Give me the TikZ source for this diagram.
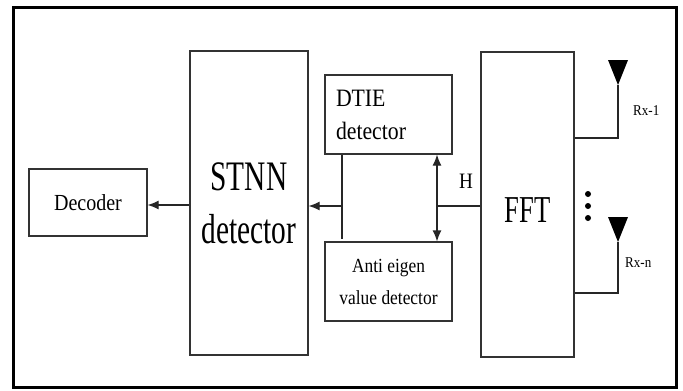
\documentclass[tikz,border=0pt]{standalone}
\usepackage{fontspec}
\setmainfont{Liberation Serif}
\newfontfamily\fA[FakeStretch=0.7]{Liberation Serif}
\newfontfamily\fB[FakeStretch=0.87]{Liberation Serif}
\usetikzlibrary{arrows.meta}
\begin{document}
\begin{tikzpicture}[x=1pt,y=-1pt,
  box/.style={draw=black!80, line width=1.2pt, inner sep=0pt, fill=white},
  conn/.style={draw=black!85, line width=1.2pt},
  tipa/.tip={Latex[length=11pt,width=9pt]},
  arr/.style={conn, -tipa},
  darr/.style={conn, tipa-tipa}]
\useasboundingbox (0,0) rectangle (683,391);
\draw[line width=3pt] (13,7) rectangle (676,387);

\node[box, minimum width=118pt, minimum height=67pt,
      font={\fB\fontsize{23}{28}\selectfont}] (dec) at (88,202.5) {Decoder};
\node[box, minimum width=118pt, minimum height=304pt, align=center,
      font={\fA\fontsize{42}{53}\selectfont}] (stnn) at (249,203) {STNN\\detector};
\node[box, minimum width=127pt, minimum height=79pt, text width=105pt, align=left,
      font={\fB\fontsize{25}{33}\selectfont}] (dtie) at (388.5,114.5) {DTIE\\detector};
\node[box, minimum width=127pt, minimum height=79pt, align=center,
      font={\fB\fontsize{20}{32}\selectfont}] (anti) at (388.5,281.5) {Anti eigen\\value detector};
\node[box, minimum width=93pt, minimum height=305pt, text height=35pt, text depth=0pt,
      font={\fA\fontsize{38}{46}\selectfont}] (fft) at (527.5,204.5) {FFT};

% STNN -> Decoder
\coordinate (j0) at (190,205);
\draw[arr] (stnn.west |- j0) -- (dec.east |- j0);

% combiner line and arrow to STNN
\coordinate (j1) at (342,206);
\coordinate (j1b) at (342,239);
\draw[conn] (j1 |- dtie.south) -- (j1b);
\draw[arr] (j1) -- (stnn.east |- j1);

% H double arrow and line from FFT
\coordinate (j3) at (437,206);
\draw[darr] (j3 |- dtie.south) -- (j3 |- anti.north);
\draw[conn] (j3) -- (fft.west |- j3);
\node[font={\fB\fontsize{22}{26}\selectfont}, anchor=base, inner sep=0pt] (h) at (466,188) {H};

% antennas
\coordinate (t1) at (618,85);
\fill (608,60) -- (628,60) -- (t1) -- cycle;
\coordinate (c1) at (618,138);
\draw[conn] (t1) -- (c1) -- (fft.east |- c1);
\node[font={\fB\fontsize{15}{18}\selectfont}, anchor=base west, inner sep=0pt] (rx1) at (633,115) {Rx-1};

\coordinate (t2) at (618,242);
\fill (608,217) -- (628,217) -- (t2) -- cycle;
\coordinate (c2) at (618,293);
\draw[conn] (t2) -- (c2) -- (fft.east |- c2);
\node[font={\fB\fontsize{15}{18}\selectfont}, anchor=base west, inner sep=0pt] (rxn) at (625,267) {Rx-n};

% dots
\fill (588,194) circle[radius=3pt];
\fill (588,206) circle[radius=3pt];
\fill (588,218) circle[radius=3pt];
\end{tikzpicture}
\end{document}
